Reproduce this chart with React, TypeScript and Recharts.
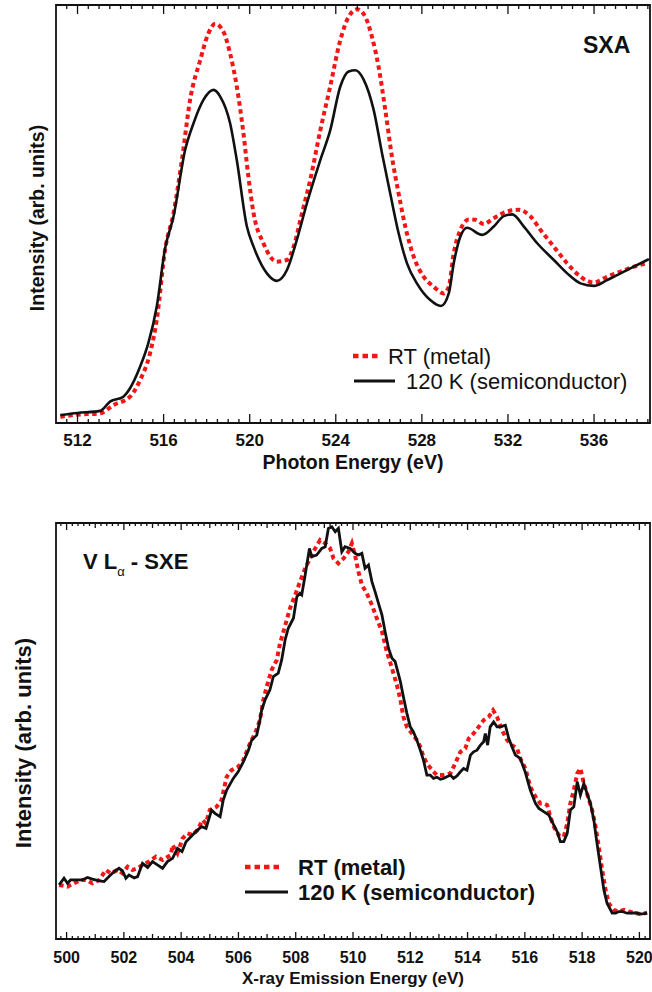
import React from "react";
import { LineChart, Line, XAxis, YAxis, ReferenceArea, Legend } from "recharts";

// ---------- SXA (top panel) : [photon energy eV, intensity arb.] ----------
const sxaMetal: [number, number][] = [
  [511.2, 1.5], [512.0, 2.0], [513.05, 2.3], [513.67, 4.3], [514.44, 6.3], [514.91, 10.3],
  [515.37, 16.7], [515.68, 24.6], [516.07, 41.5], [516.46, 50.2], [516.85, 62.9], [517.23, 77.3],
  [517.7, 86.8], [518.08, 93.2], [518.4, 95.5], [518.78, 93.6], [519.09, 88.4], [519.4, 80.5],
  [519.71, 69.3], [519.94, 58.9], [520.18, 50.2], [520.64, 43.0], [521.26, 38.6], [521.73, 39.0],
  [522.04, 42.2], [522.43, 50.2], [522.81, 58.1], [523.28, 70.0], [523.74, 80.5], [524.21, 91.6],
  [524.6, 97.2], [524.99, 99.0], [525.37, 97.2], [525.68, 92.4], [525.99, 85.2], [526.3, 74.9],
  [526.61, 63.7], [526.92, 54.9], [527.23, 47.0], [527.62, 39.8], [528.08, 35.0], [528.55, 32.6],
  [529.01, 31.0], [529.25, 32.6], [529.48, 40.6], [529.79, 46.2], [530.18, 48.7], [530.49, 48.6],
  [530.88, 47.6], [531.34, 49.0], [531.96, 50.6], [532.5, 51.0], [533.05, 49.4], [533.51, 46.2],
  [534.13, 42.2], [534.75, 38.2], [535.37, 35.0], [535.99, 33.6], [536.61, 35.0], [537.23, 36.2],
  [537.85, 37.4], [538.47, 38.2],
];
const sxaSemi: [number, number][] = [
  [511.2, 1.9], [512.0, 2.4], [513.05, 2.9], [513.51, 5.1], [514.13, 6.3], [514.44, 8.3],
  [514.91, 13.5], [515.29, 19.1], [515.68, 27.8], [516.07, 41.8], [516.46, 49.4], [517.0, 65.3],
  [517.39, 71.7], [517.85, 77.3], [518.32, 79.7], [518.63, 78.1], [519.09, 71.7], [519.4, 62.9],
  [519.87, 47.0], [520.18, 42.2], [520.8, 35.8], [521.26, 34.0], [521.73, 36.6], [522.19, 43.8],
  [522.66, 52.6], [523.28, 62.9], [523.74, 70.0], [524.21, 80.5], [524.6, 84.1], [524.91, 84.4],
  [525.3, 82.1], [525.76, 74.9], [526.15, 64.5], [526.53, 54.9], [526.92, 45.4], [527.31, 38.2],
  [527.77, 33.4], [528.39, 29.4], [528.89, 28.0], [529.25, 31.0], [529.48, 38.2], [529.79, 44.6],
  [530.1, 46.7], [530.8, 45.0], [531.34, 47.0], [531.81, 49.5], [532.2, 49.9], [532.74, 47.0],
  [533.36, 43.0], [534.13, 39.0], [534.75, 35.8], [535.37, 33.4], [535.99, 32.8], [536.61, 34.2],
  [537.23, 35.8], [537.85, 37.4], [538.55, 39.2],
];
const sxaDomain: [number, number] = [511.0, 538.6];
const sxaLabels = [512, 516, 520, 524, 528, 532, 536];

// ---------- V L-alpha SXE (bottom panel) : [emission energy eV, intensity arb.] ----------
const sxeMetal: [number, number][] = [
  [499.74, 13.0], [500.03, 12.6], [500.26, 13.4], [500.49, 14.2], [500.67, 14.2], [500.9, 13.4],
  [501.14, 14.2], [501.37, 16.6], [501.54, 15.8], [501.78, 16.6], [501.95, 15.8], [502.13, 17.4],
  [502.3, 16.6], [502.48, 17.0], [502.65, 17.8], [502.88, 18.6], [503.12, 19.8], [503.35, 19.0],
  [503.64, 20.2], [503.7, 22.6], [503.87, 20.6], [504.05, 24.2], [504.22, 25.4], [504.4, 25.0],
  [504.57, 26.2], [504.75, 28.6], [504.86, 27.8], [505.0, 31.0], [505.24, 31.8], [505.41, 33.4],
  [505.59, 39.0], [505.76, 40.6], [505.99, 41.4], [506.17, 43.0], [506.4, 47.0], [506.58, 49.4],
  [506.75, 52.6], [506.87, 57.5], [506.99, 60.7], [507.16, 64.7], [507.34, 67.1], [507.45, 71.0],
  [507.63, 75.3], [507.8, 79.5], [507.98, 82.7], [508.15, 85.9], [508.33, 89.1], [508.5, 91.5],
  [508.68, 93.9], [508.85, 95.9], [509.03, 95.1], [509.2, 93.9], [509.32, 91.5], [509.49, 90.3],
  [509.67, 91.5], [509.84, 93.1], [509.96, 95.1], [510.07, 92.3], [510.19, 88.3], [510.31, 85.1],
  [510.48, 83.1], [510.66, 80.3], [510.83, 77.1], [511.01, 73.9], [511.18, 69.1], [511.36, 65.1],
  [511.53, 61.1], [511.65, 57.7], [511.76, 53.4], [511.88, 51.0], [512.06, 49.4], [512.23, 47.8],
  [512.35, 46.2], [512.46, 43.8], [512.58, 42.2], [512.76, 40.6], [512.93, 39.4], [513.16, 39.4],
  [513.4, 39.8], [513.57, 42.2], [513.75, 45.0], [513.92, 45.8], [514.04, 48.2], [514.21, 49.4],
  [514.39, 51.0], [514.56, 52.6], [514.74, 53.4], [514.89, 55.0], [515.03, 53.4], [515.2, 50.2],
  [515.38, 47.8], [515.55, 46.6], [515.73, 45.8], [515.84, 43.4], [516.02, 41.0], [516.19, 36.6],
  [516.37, 34.2], [516.54, 32.6], [516.66, 32.6], [516.78, 32.2], [516.89, 29.4], [517.01, 27.0],
  [517.18, 25.0], [517.36, 24.6], [517.48, 27.8], [517.59, 32.6], [517.71, 35.8], [517.83, 39.8],
  [517.94, 41.0], [518.06, 37.4], [518.17, 35.0], [518.35, 31.0], [518.47, 27.0], [518.58, 22.2],
  [518.7, 16.6], [518.82, 11.8], [518.93, 8.6], [519.11, 7.0], [519.28, 6.6], [519.46, 7.0],
  [519.63, 6.6], [519.8, 6.3], [520.04, 6.0], [520.27, 6.3],
];
const sxeSemi: [number, number][] = [
  [499.74, 13.0], [499.91, 14.6], [500.03, 13.4], [500.14, 14.2], [500.32, 14.2], [500.55, 14.2],
  [500.73, 14.8], [500.9, 14.4], [501.14, 14.0], [501.31, 13.8], [501.48, 15.0], [501.66, 16.2],
  [501.83, 17.0], [501.95, 16.4], [502.07, 14.6], [502.18, 15.4], [502.36, 14.7], [502.48, 15.0],
  [502.65, 18.2], [502.83, 17.2], [503.0, 18.6], [503.17, 17.8], [503.35, 17.0], [503.52, 18.6],
  [503.7, 19.4], [503.87, 21.8], [504.03, 21.0], [504.17, 23.4], [504.34, 24.6], [504.54, 26.0],
  [504.71, 27.0], [504.87, 26.6], [505.06, 31.0], [505.18, 30.2], [505.36, 29.4], [505.47, 33.4],
  [505.59, 35.8], [505.82, 38.6], [505.99, 40.2], [506.17, 42.6], [506.35, 45.4], [506.46, 47.8],
  [506.64, 49.0], [506.75, 52.6], [506.81, 55.0], [506.93, 57.5], [507.1, 59.9], [507.22, 63.1],
  [507.39, 63.9], [507.51, 67.1], [507.63, 71.9], [507.74, 74.7], [507.92, 77.1], [508.04, 82.3],
  [508.15, 83.1], [508.21, 82.7], [508.33, 87.5], [508.48, 93.9], [508.56, 91.9], [508.73, 92.3],
  [508.91, 93.9], [509.03, 94.3], [509.14, 98.7], [509.26, 99.1], [509.38, 97.9], [509.49, 98.7],
  [509.61, 93.1], [509.72, 94.3], [509.9, 93.9], [510.07, 92.7], [510.19, 92.3], [510.31, 92.7],
  [510.42, 89.1], [510.54, 89.9], [510.66, 85.9], [510.77, 83.5], [510.89, 80.7], [511.01, 77.9],
  [511.12, 73.9], [511.24, 69.9], [511.36, 67.5], [511.47, 66.7], [511.65, 62.0], [511.76, 58.2],
  [511.88, 54.3], [512.0, 51.0], [512.11, 49.8], [512.23, 47.8], [512.35, 45.4], [512.46, 43.0],
  [512.58, 39.4], [512.7, 39.4], [512.81, 38.6], [512.93, 38.9], [513.05, 38.4], [513.16, 38.6],
  [513.28, 39.0], [513.4, 39.4], [513.51, 38.6], [513.63, 39.2], [513.75, 40.2], [513.86, 41.0],
  [513.98, 40.6], [514.1, 44.2], [514.21, 45.0], [514.33, 45.4], [514.45, 46.6], [514.56, 47.4],
  [514.62, 49.4], [514.7, 46.6], [514.79, 51.0], [514.91, 52.2], [515.03, 51.0], [515.14, 51.0],
  [515.32, 51.4], [515.44, 48.2], [515.55, 46.2], [515.67, 44.2], [515.84, 43.4], [516.02, 40.0],
  [516.19, 35.8], [516.37, 32.6], [516.49, 31.4], [516.66, 30.6], [516.84, 29.8], [516.95, 28.2],
  [517.13, 25.8], [517.24, 23.4], [517.36, 23.4], [517.48, 25.4], [517.59, 31.0], [517.71, 31.8],
  [517.83, 37.8], [517.94, 34.6], [518.06, 37.4], [518.17, 35.0], [518.29, 32.6], [518.41, 28.6],
  [518.52, 23.0], [518.64, 17.4], [518.76, 11.8], [518.87, 8.6], [519.05, 6.2], [519.17, 6.2],
  [519.28, 6.6], [519.4, 6.6], [519.57, 6.2], [519.75, 6.2], [519.87, 6.3], [520.04, 6.0],
  [520.27, 6.2],
];
const sxeDomain: [number, number] = [499.63, 520.37];
const sxeLabels = [500, 502, 504, 506, 508, 510, 512, 514, 516, 518, 520];

const legendNames = ["RT (metal)", "120 K (semiconductor)"];

const FONT = "'Liberation Sans', Arial, Helvetica, sans-serif";
const RED = "#f21616";
const INK = "#111";

const toPts = (arr: [number, number][]) => arr.map(([x, y]) => ({ x, y }));

// evenly spaced minor tick positions inside the domain
function tickSteps(from: number, to: number, step: number) {
  const out: number[] = [];
  for (let v = from; v <= to + 1e-9; v += step) out.push(Math.round(v * 100) / 100);
  return out;
}

const isMult = (v: number, m: number) => Math.abs(v / m - Math.round(v / m)) < 1e-6;

function makeTick(side: "top" | "bottom", lenOf: (v: number) => number, labels: number[] | null, fontSize: number, dy: number) {
  return (props: any) => {
    const { x, y, payload } = props;
    const v: number = payload.value;
    const dir = side === "bottom" ? -1 : 1;
    const showLabel = labels && labels.some((l) => Math.abs(l - v) < 1e-6);
    return (
      <g>
        <line x1={x} x2={x} y1={y} y2={y + dir * lenOf(v)} stroke={INK} strokeWidth={1.3} />
        {showLabel && (
          <text x={x} y={y + dy} textAnchor="middle" fontFamily={FONT} fontWeight="bold" fontSize={fontSize} fill={INK}>
            {v}
          </text>
        )}
      </g>
    );
  };
}

function xTitle(text: string, size: number, dy: number) {
  return (p: any) => (
    <text x={p.viewBox.x + p.viewBox.width / 2} y={p.viewBox.y + dy} textAnchor="middle" fontFamily={FONT} fontWeight="bold" fontSize={size} fill={INK}>
      {text}
    </text>
  );
}

function yTitle(text: string, size: number, cx: number, dy: number) {
  return (p: any) => {
    const cy = p.viewBox.y + p.viewBox.height / 2 + dy;
    return (
      <text x={cx} y={cy} transform={`rotate(-90 ${cx} ${cy})`} textAnchor="middle" dominantBaseline="central" fontFamily={FONT} fontWeight="bold" fontSize={size} fill={INK}>
        {text}
      </text>
    );
  };
}

interface LegendCfg {
  samples: [number, number][];
  textX: number[];
  bold: boolean;
  dash: string;
}

function LegendBox({ cfg }: { cfg: LegendCfg }) {
  return (
    <svg width={310} height={52} style={{ display: "block", overflow: "visible" }}>
      {legendNames.map((name, i) => {
        const cy = 12 + 25 * i;
        const [a, b] = cfg.samples[i];
        return (
          <g key={name}>
            <line
              x1={a}
              x2={b}
              y1={cy}
              y2={cy}
              stroke={i === 0 ? RED : INK}
              strokeWidth={i === 0 ? 4.5 : 2.8}
              strokeDasharray={i === 0 ? cfg.dash : undefined}
            />
            <text x={cfg.textX[i]} y={cy} dominantBaseline="central" fontFamily={FONT} fontWeight={cfg.bold ? "bold" : "normal"} fontSize={22} fill={INK}>
              {name}
            </text>
          </g>
        );
      })}
    </svg>
  );
}

interface PanelProps {
  metal: [number, number][];
  semi: [number, number][];
  domain: [number, number];
  minor: number[];
  labels: number[];
  lenOf: (v: number) => number;
  tickFont: number;
  tickDy: number;
  height: number;
  margin: { top: number; right: number; bottom: number; left: number };
  yWidth: number;
  yTitleSize: number;
  yTitleX: number;
  yTitleDy: number;
  xTitleText: string;
  xTitleSize: number;
  xTitleDy: number;
  xAxisHeight: number;
  legend: LegendCfg;
  legendPos: { left: number; top: number };
  type: "monotone" | "linear";
  redWidth: number;
  blackWidth: number;
}

function Panel(p: PanelProps) {
  return (
    <LineChart width={652} height={p.height} margin={p.margin}>
      <XAxis
        xAxisId="top"
        dataKey="x"
        orientation="top"
        type="number"
        domain={p.domain}
        allowDataOverflow
        ticks={p.minor}
        interval={0}
        height={1}
        axisLine={false}
        tickLine={false}
        tickSize={0}
        tickMargin={0}
        tick={makeTick("top", p.lenOf, null, p.tickFont, 0)}
      />
      <XAxis
        dataKey="x"
        type="number"
        domain={p.domain}
        allowDataOverflow
        ticks={p.minor}
        interval={0}
        height={p.xAxisHeight}
        axisLine={false}
        tickLine={false}
        tickSize={0}
        tickMargin={0}
        tick={makeTick("bottom", p.lenOf, p.labels, p.tickFont, p.tickDy)}
        label={{ content: xTitle(p.xTitleText, p.xTitleSize, p.xTitleDy) }}
      />
      <YAxis
        type="number"
        domain={[0, 100]}
        allowDataOverflow
        width={p.yWidth}
        tick={false}
        tickLine={false}
        axisLine={false}
        label={{ content: yTitle("Intensity (arb. units)", p.yTitleSize, p.yTitleX, p.yTitleDy) }}
      />
      <ReferenceArea x1={p.domain[0]} x2={p.domain[1]} y1={0} y2={100} fill="none" stroke={INK} strokeWidth={1.8} ifOverflow="visible" />
      <Line
        xAxisId="top"
        data={toPts(p.metal)}
        dataKey="y"
        name={legendNames[0]}
        type={p.type}
        stroke={RED}
        strokeWidth={p.redWidth}
        strokeDasharray="4.5 3.5"
        dot={false}
        activeDot={false}
        isAnimationActive={false}
      />
      <Line
        data={toPts(p.semi)}
        dataKey="y"
        name={legendNames[1]}
        type={p.type}
        stroke={INK}
        strokeWidth={p.blackWidth}
        dot={false}
        activeDot={false}
        isAnimationActive={false}
      />
      <Legend
        layout="vertical"
        align="center"
        verticalAlign="middle"
        wrapperStyle={{ left: p.legendPos.left, top: p.legendPos.top, width: 310 }}
        content={() => <LegendBox cfg={p.legend} />}
      />
    </LineChart>
  );
}

export default function App() {
  return (
    <div style={{ position: "absolute", left: 0, top: 0, width: 652, height: 992, background: "#fff", fontFamily: FONT }}>
      <div style={{ position: "absolute", left: 0, top: 0 }}>
        <Panel
          metal={sxaMetal}
          semi={sxaSemi}
          domain={sxaDomain}
          minor={tickSteps(511.5, 538.5, 0.5)}
          labels={sxaLabels}
          lenOf={(v) => (isMult(v, 4) ? 9 : 4)}
          tickFont={17}
          tickDy={23}
          height={480}
          margin={{ top: 4, right: 2, bottom: 12, left: 18 }}
          yWidth={38}
          yTitleSize={19.5}
          yTitleX={37}
          yTitleDy={4}
          xTitleText="Photon Energy (eV)"
          xTitleSize={19.5}
          xTitleDy={46}
          xAxisHeight={45}
          legend={{ samples: [[3, 28], [4, 45]], textX: [38, 56], bold: false, dash: "5.5 4" }}
          legendPos={{ left: 350, top: 344 }}
          type="monotone"
          redWidth={4}
          blackWidth={2.6}
        />
      </div>
      <div style={{ position: "absolute", left: 0, top: 500 }}>
        <Panel
          metal={sxeMetal}
          semi={sxeSemi}
          domain={sxeDomain}
          minor={tickSteps(499.8, 520.2, 0.2)}
          labels={sxeLabels}
          lenOf={(v) => (isMult(v, 2) ? 7 : isMult(v, 1) ? 5 : 3)}
          tickFont={16}
          tickDy={24}
          height={492}
          margin={{ top: 22, right: 2, bottom: 9, left: 0 }}
          yWidth={56}
          yTitleSize={22}
          yTitleX={23}
          yTitleDy={12}
          xTitleText="X-ray Emission Energy (eV)"
          xTitleSize={17}
          xTitleDy={45}
          xAxisHeight={44}
          legend={{ samples: [[3, 38], [3, 46]], textX: [56, 56], bold: true, dash: "5.5 4" }}
          legendPos={{ left: 242, top: 355 }}
          type="linear"
          redWidth={4}
          blackWidth={2.8}
        />
      </div>
      <div style={{ position: "absolute", left: 583, top: 34, fontSize: 23, fontWeight: "bold", lineHeight: 1, color: INK }}>SXA</div>
      <div style={{ position: "absolute", left: 83, top: 551, fontSize: 22, fontWeight: "bold", lineHeight: 1, color: INK, whiteSpace: "nowrap" }}>
        V L
        <span style={{ fontSize: 13, fontWeight: "normal", position: "relative", top: 7 }}>α</span> - SXE
      </div>
    </div>
  );
}
